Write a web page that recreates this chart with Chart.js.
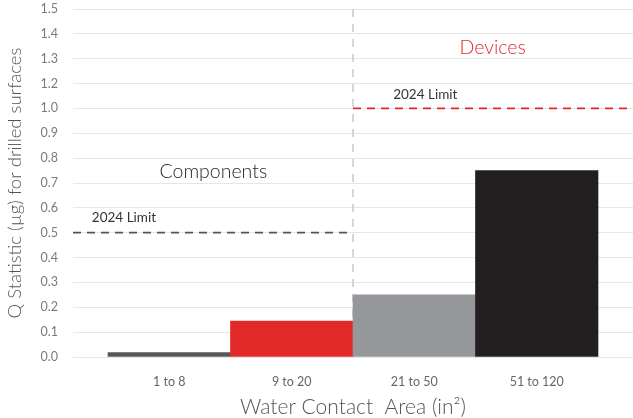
<!DOCTYPE html>
<html>
<head>
<meta charset="utf-8">
<script src="https://cdn.jsdelivr.net/npm/chart.js@4/dist/chart.umd.min.js"></script>
<style>
  html, body { margin: 0; padding: 0; background: #fff; }
  #wrap { width: 633px; height: 418px; position: relative; }
</style>
</head>
<body>
<div id="wrap"><canvas id="chart"></canvas></div>
<script>
// Q statistic per water contact area band
const categories = ["1 to 8", "9 to 20", "21 to 50", "51 to 120"]
const qValues = [0.018, 0.145, 0.25, 0.75]
const barColors = ["#55585b", "#e12a28", "#96979a", "#231f20"]

// the original axis skips "1.1", so every label above 1.0 is one step ahead
const yTickValues = [0, 0.1, 0.2, 0.3, 0.4, 0.5, 0.6, 0.7, 0.8, 0.9, 1.0, 1.1, 1.2, 1.3, 1.4]
const yTickLabels = ["0.0", "0.1", "0.2", "0.3", "0.4", "0.5", "0.6", "0.7", "0.8", "0.9", "1.0", "1.2", "1.3", "1.4", "1.5"]

const componentsLimit = 0.5
const devicesLimit = 1.0
const groupSplit = 1.5 // between "9 to 20" and "21 to 50"

const FONT = "Lato, 'Open Sans', sans-serif"

// limits, split line and group names, placed through the scales
const notes = {
  id: "notes",
  beforeDatasetsDraw(chart) {
    const { ctx, chartArea: a, scales: { x, y } } = chart
    const xs = x.getPixelForValue(groupSplit)
    ctx.save()

    ctx.lineWidth = 1.5
    ctx.strokeStyle = "#c9c9c9"
    ctx.setLineDash([8, 7])
    ctx.beginPath()
    ctx.moveTo(xs, a.top)
    ctx.lineTo(xs, a.bottom)
    ctx.stroke()

    ctx.lineWidth = 1.8
    ctx.setLineDash([8, 6])
    ctx.strokeStyle = "#555"
    ctx.beginPath()
    ctx.moveTo(a.left, y.getPixelForValue(componentsLimit))
    ctx.lineTo(xs, y.getPixelForValue(componentsLimit))
    ctx.stroke()

    ctx.strokeStyle = "#e12a28"
    ctx.beginPath()
    ctx.moveTo(xs, y.getPixelForValue(devicesLimit))
    ctx.lineTo(a.right, y.getPixelForValue(devicesLimit))
    ctx.stroke()
    ctx.setLineDash([])

    ctx.textAlign = "center"
    ctx.textBaseline = "middle"
    ctx.font = "300 19.5px " + FONT
    ctx.fillStyle = "#231f20"
    ctx.fillText("Components", x.getPixelForValue(0.36), y.getPixelForValue(0.745))
    ctx.fillStyle = "#e12a28"
    ctx.fillText("Devices", x.getPixelForValue(2.64), y.getPixelForValue(1.245))

    ctx.font = "13.5px " + FONT
    ctx.fillStyle = "#333"
    ctx.fillText("2024 Limit", x.getPixelForValue(-0.37), y.getPixelForValue(0.56))
    ctx.fillText("2024 Limit", x.getPixelForValue(2.09), y.getPixelForValue(1.055))
    ctx.restore()
  }
}

new Chart(document.getElementById("chart"), {
  type: "bar",
  data: {
    datasets: [{
      data: categories.map((c, i) => ({ x: i, y: qValues[i] })),
      backgroundColor: barColors,
      barPercentage: 1,
      categoryPercentage: 1,
      borderWidth: 0
    }]
  },
  options: {
    responsive: true,
    maintainAspectRatio: false,
    animation: false,
    layout: { padding: { top: 9, right: 0, left: 0, bottom: 0 } },
    plugins: { legend: { display: false }, tooltip: { enabled: false } },
    scales: {
      x: {
        type: "linear",
        offset: false,
        min: -0.5 - 35 / 122.5,
        max: 3.5 + 35 / 122.5,
        afterBuildTicks: (s) => { s.ticks = categories.map((c, i) => ({ value: i })) },
        afterFit: (s) => { s.height = 61; s.paddingLeft = 0; s.paddingRight = 0 },
        grid: { display: false, drawTicks: false, offset: false },
        border: { display: false },
        ticks: {
          callback: (v) => categories[v],
          color: "#666",
          padding: 17,
          maxRotation: 0,
          font: { family: FONT, size: 12.5 }
        },
        title: {
          display: true,
          text: "Water Contact  Area (in²)",
          color: "#555",
          padding: { top: 0, bottom: -2 },
          font: { family: FONT, size: 21, weight: 300 }
        }
      },
      y: {
        min: 0,
        max: 1.4,
        afterBuildTicks: (s) => { s.ticks = yTickValues.map((v) => ({ value: v })) },
        afterFit: (s) => { s.width = 73; s.paddingTop = 0; s.paddingBottom = 0 },
        grid: { color: "#e6e6e6", lineWidth: 1, drawTicks: false },
        border: { display: false },
        ticks: {
          callback: (v, i) => yTickLabels[i],
          color: "#7a7a7a",
          padding: 15,
          font: { family: FONT, size: 12.5 }
        },
        title: {
          display: true,
          text: "Q Statistic (µg) for drilled surfaces",
          color: "#555",
          padding: { top: 4, bottom: 0 },
          font: { family: FONT, size: 18.5, weight: 300 }
        }
      }
    }
  },
  plugins: [notes]
})
</script>
</body>
</html>
